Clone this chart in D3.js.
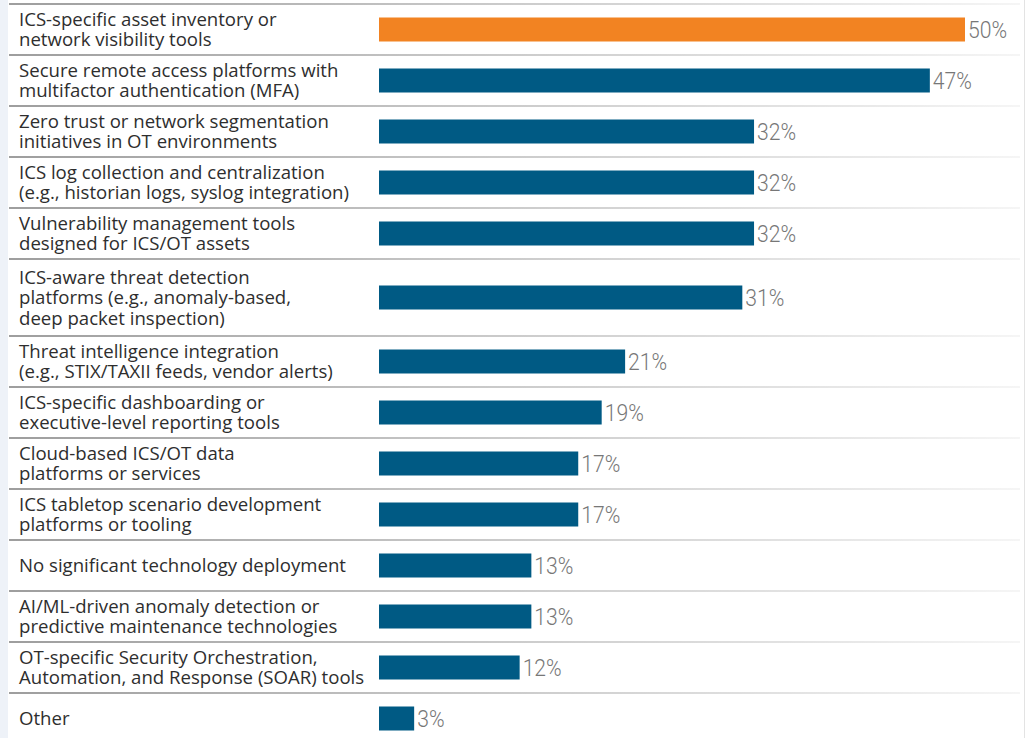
<!DOCTYPE html>
<html>
<head>
<meta charset="utf-8">
<script src="https://cdn.jsdelivr.net/npm/d3@7"></script>
<style>
  html, body { margin: 0; padding: 0; background: #fff; }
  svg { display: block; }
</style>
</head>
<body>
<div id="viz"></div>
<script>
// Data
const categories = [
  ["ICS-specific asset inventory or", "network visibility tools"],
  ["Secure remote access platforms with", "multifactor authentication (MFA)"],
  ["Zero trust or network segmentation", "initiatives in OT environments"],
  ["ICS log collection and centralization", "(e.g., historian logs, syslog integration)"],
  ["Vulnerability management tools", "designed for ICS/OT assets"],
  ["ICS-aware threat detection", "platforms (e.g., anomaly-based,", "deep packet inspection)"],
  ["Threat intelligence integration", "(e.g., STIX/TAXII feeds, vendor alerts)"],
  ["ICS-specific dashboarding or", "executive-level reporting tools"],
  ["Cloud-based ICS/OT data", "platforms or services"],
  ["ICS tabletop scenario development", "platforms or tooling"],
  ["No significant technology deployment"],
  ["AI/ML-driven anomaly detection or", "predictive maintenance technologies"],
  ["OT-specific Security Orchestration,", "Automation, and Response (SOAR) tools"],
  ["Other"]
];
const values = [50, 47, 32, 32, 32, 31, 21, 19, 17, 17, 13, 13, 12, 3];
const highlighted = [true, false, false, false, false, false, false, false, false, false, false, false, false, false];

const W = 1026, H = 738;
const topY = 4;
const lineH = 20.5;

// row layout from line counts
const rows = [];
let yPos = topY;
categories.forEach((lines, i) => {
  const h = lines.length > 2 ? 77 : 51;
  rows.push({ lines, value: values[i], hi: highlighted[i], y0: yPos, h });
  yPos += h;
});

const svg = d3.select("#viz")
  .append("svg")
  .attr("width", W)
  .attr("height", H);

const defs = svg.append("defs");
const grad = defs.append("linearGradient")
  .attr("id", "sepGrad")
  .attr("gradientUnits", "userSpaceOnUse")
  .attr("x1", 9).attr("x2", 1020).attr("y1", 0).attr("y2", 0);
grad.append("stop").attr("offset", "0%").attr("stop-color", "#7d7d7d");
grad.append("stop").attr("offset", "45%").attr("stop-color", "#b5b5b5");
grad.append("stop").attr("offset", "100%").attr("stop-color", "#f2f2f2");

// left tint strip + right edge line
svg.append("rect").attr("x", 0).attr("y", 0).attr("width", 8).attr("height", H).attr("fill", "#eef2f8");
svg.append("line").attr("x1", 1024.5).attr("x2", 1024.5).attr("y1", 0).attr("y2", H)
  .attr("stroke", "#e3e3e3").attr("stroke-width", 1);

const x = d3.scaleLinear()
  .domain([0, 50])
  .range([379, 965]);

// separators (top of each row)
svg.selectAll("line.sep")
  .data(rows)
  .enter()
  .append("line")
  .attr("class", "sep")
  .attr("x1", 9)
  .attr("x2", 1020)
  .attr("y1", d => d.y0)
  .attr("y2", d => d.y0)
  .attr("stroke", "url(#sepGrad)")
  .attr("stroke-width", 1.6);

// bars
svg.selectAll("rect.bar")
  .data(rows)
  .enter()
  .append("rect")
  .attr("class", "bar")
  .attr("x", x(0))
  .attr("y", d => d.y0 + d.h / 2 - 12)
  .attr("width", d => x(d.value) - x(0))
  .attr("height", 24)
  .attr("fill", d => d.hi ? "#f28322" : "#005a84");

// value labels (narrowed light face)
svg.selectAll("text.val")
  .data(rows)
  .enter()
  .append("text")
  .attr("class", "val")
  .attr("transform", d => `translate(${x(d.value) + 3},${d.y0 + d.h / 2 + 8.5}) scale(0.92,1)`)
  .text(d => d.value + "%")
  .style("font-family", "Roboto, sans-serif")
  .style("font-weight", 300)
  .style("font-size", "23px")
  .style("fill", "#777");

// category labels
const labels = svg.selectAll("text.cat")
  .data(rows)
  .enter()
  .append("text")
  .attr("class", "cat")
  .style("font-family", "'Open Sans', sans-serif")
  .style("font-size", "18.6px")
  .style("fill", "#2e2e2e");

labels.each(function (d) {
  const first = d.y0 + d.h / 2 - (d.lines.length - 1) * lineH / 2 + 6.5;
  d3.select(this).selectAll("tspan")
    .data(d.lines)
    .enter()
    .append("tspan")
    .attr("x", 19)
    .attr("y", (t, j) => first + j * lineH)
    .text(t => t);
});
</script>
</body>
</html>
